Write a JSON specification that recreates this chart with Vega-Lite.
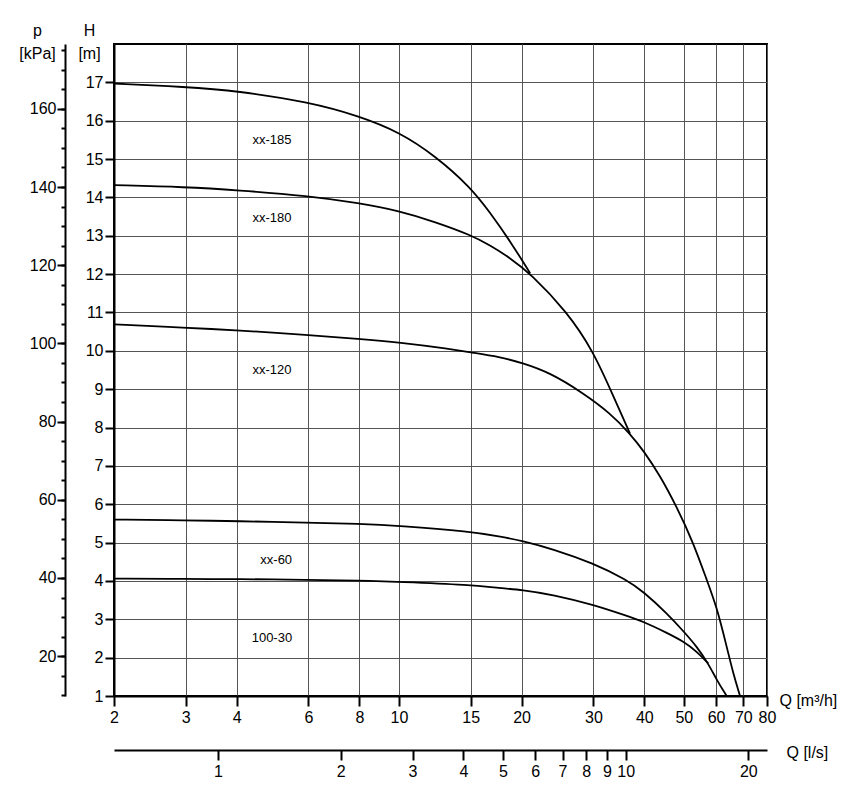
{
  "$schema": "https://vega.github.io/schema/vega-lite/v6.json",
  "width": 653,
  "height": 652,
  "autosize": {"type": "none"},
  "padding": {"left": 114, "top": 44, "right": 94, "bottom": 102},
  "background": "white",
  "config": {
    "font": "Liberation Sans",
    "view": {"stroke": "black", "strokeWidth": 2},
    "axis": {
      "domainColor": "black", "domainWidth": 2,
      "tickColor": "black", "tickWidth": 2,
      "labelColor": "black", "labelFontSize": 16, "labelFont": "Liberation Sans",
      "titleFont": "Liberation Sans", "titleFontSize": 16, "titleFontWeight": "normal", "titleColor": "black",
      "gridColor": "#555", "gridWidth": 1, "gridOpacity": 1,
      "labelOverlap": false, "labelFlush": false
    }
  },
  "datasets": {
    "curves": [
      {"series": "xx-185", "Q": 2, "H": 16.97},
      {"series": "xx-185", "Q": 3, "H": 16.88},
      {"series": "xx-185", "Q": 4, "H": 16.78},
      {"series": "xx-185", "Q": 6, "H": 16.49},
      {"series": "xx-185", "Q": 8, "H": 16.12},
      {"series": "xx-185", "Q": 10, "H": 15.71},
      {"series": "xx-185", "Q": 12.3, "H": 15.08},
      {"series": "xx-185", "Q": 15, "H": 14.26},
      {"series": "xx-185", "Q": 16.7, "H": 13.62},
      {"series": "xx-185", "Q": 18.75, "H": 12.86},
      {"series": "xx-185", "Q": 21, "H": 12.02},
      {"series": "xx-180", "Q": 2, "H": 14.32},
      {"series": "xx-180", "Q": 3, "H": 14.27},
      {"series": "xx-180", "Q": 4, "H": 14.19},
      {"series": "xx-180", "Q": 6, "H": 14.04},
      {"series": "xx-180", "Q": 8, "H": 13.85},
      {"series": "xx-180", "Q": 10, "H": 13.65},
      {"series": "xx-180", "Q": 12.3, "H": 13.36},
      {"series": "xx-180", "Q": 15, "H": 13.02},
      {"series": "xx-180", "Q": 16.7, "H": 12.76},
      {"series": "xx-180", "Q": 18.75, "H": 12.42},
      {"series": "xx-180", "Q": 21, "H": 12.02},
      {"series": "xx-180", "Q": 25.8, "H": 11.03},
      {"series": "xx-180", "Q": 30, "H": 9.99},
      {"series": "xx-180", "Q": 33.6, "H": 8.81},
      {"series": "xx-180", "Q": 36.9, "H": 7.84},
      {"series": "xx-120", "Q": 2, "H": 10.69},
      {"series": "xx-120", "Q": 3, "H": 10.6},
      {"series": "xx-120", "Q": 4, "H": 10.54},
      {"series": "xx-120", "Q": 6, "H": 10.41},
      {"series": "xx-120", "Q": 8, "H": 10.31},
      {"series": "xx-120", "Q": 10, "H": 10.22},
      {"series": "xx-120", "Q": 13.35, "H": 10.05},
      {"series": "xx-120", "Q": 15, "H": 9.96},
      {"series": "xx-120", "Q": 17.7, "H": 9.84},
      {"series": "xx-120", "Q": 20, "H": 9.69},
      {"series": "xx-120", "Q": 23.5, "H": 9.43},
      {"series": "xx-120", "Q": 28.3, "H": 8.9},
      {"series": "xx-120", "Q": 32.95, "H": 8.38},
      {"series": "xx-120", "Q": 36.9, "H": 7.84},
      {"series": "xx-120", "Q": 39.8, "H": 7.4},
      {"series": "xx-120", "Q": 43.7, "H": 6.75},
      {"series": "xx-120", "Q": 48, "H": 5.94},
      {"series": "xx-120", "Q": 52.8, "H": 4.99},
      {"series": "xx-120", "Q": 56.9, "H": 4.03},
      {"series": "xx-120", "Q": 60.2, "H": 3.33},
      {"series": "xx-120", "Q": 63.7, "H": 2.29},
      {"series": "xx-120", "Q": 66.1, "H": 1.59},
      {"series": "xx-120", "Q": 68.7, "H": 1.0},
      {"series": "xx-60", "Q": 2, "H": 5.6},
      {"series": "xx-60", "Q": 3, "H": 5.58},
      {"series": "xx-60", "Q": 4, "H": 5.56},
      {"series": "xx-60", "Q": 6, "H": 5.52},
      {"series": "xx-60", "Q": 8, "H": 5.49},
      {"series": "xx-60", "Q": 10, "H": 5.44},
      {"series": "xx-60", "Q": 15, "H": 5.29},
      {"series": "xx-60", "Q": 17.7, "H": 5.16},
      {"series": "xx-60", "Q": 20, "H": 5.05},
      {"series": "xx-60", "Q": 23.9, "H": 4.83},
      {"series": "xx-60", "Q": 30, "H": 4.46},
      {"series": "xx-60", "Q": 36.2, "H": 4.03},
      {"series": "xx-60", "Q": 39.8, "H": 3.72},
      {"series": "xx-60", "Q": 45.4, "H": 3.16},
      {"series": "xx-60", "Q": 50, "H": 2.68},
      {"series": "xx-60", "Q": 53.8, "H": 2.29},
      {"series": "xx-60", "Q": 57.4, "H": 1.85},
      {"series": "xx-60", "Q": 60.2, "H": 1.42},
      {"series": "xx-60", "Q": 63.7, "H": 1.0},
      {"series": "100-30", "Q": 2, "H": 4.06},
      {"series": "100-30", "Q": 3, "H": 4.05},
      {"series": "100-30", "Q": 4, "H": 4.05},
      {"series": "100-30", "Q": 6, "H": 4.03},
      {"series": "100-30", "Q": 8, "H": 4.01},
      {"series": "100-30", "Q": 10, "H": 3.98},
      {"series": "100-30", "Q": 15, "H": 3.9},
      {"series": "100-30", "Q": 17.7, "H": 3.81},
      {"series": "100-30", "Q": 20, "H": 3.77},
      {"series": "100-30", "Q": 23.9, "H": 3.64},
      {"series": "100-30", "Q": 30, "H": 3.38},
      {"series": "100-30", "Q": 36.2, "H": 3.09},
      {"series": "100-30", "Q": 39.8, "H": 2.94},
      {"series": "100-30", "Q": 45.4, "H": 2.65},
      {"series": "100-30", "Q": 50, "H": 2.42},
      {"series": "100-30", "Q": 53.8, "H": 2.16},
      {"series": "100-30", "Q": 57.4, "H": 1.85}
    ],
    "labels": [
      {"label": "xx-185", "Q": 4.88, "H": 15.5},
      {"label": "xx-180", "Q": 4.88, "H": 13.47},
      {"label": "xx-120", "Q": 4.88, "H": 9.49},
      {"label": "xx-60", "Q": 5.0, "H": 4.55},
      {"label": "100-30", "Q": 4.88, "H": 2.51}
    ],
    "pdata": [{"p": 10}, {"p": 170}],
    "lsdata": [{"Qls": 1}, {"Qls": 20}]
  },
  "layer": [
    {
      "layer": [
        {
          "data": {"name": "curves"},
          "mark": {"type": "line", "color": "black", "strokeWidth": 1.8, "interpolate": "basis"},
          "encoding": {
            "x": {
              "field": "Q", "type": "quantitative",
              "scale": {"type": "log", "domain": [2, 80], "nice": false, "zero": false},
              "axis": {
                "values": [2, 3, 4, 6, 8, 10, 15, 20, 30, 40, 50, 60, 70, 80],
                "format": "d", "grid": true, "tickSize": 10, "labelPadding": 3,
                "title": "Q [m³/h]", "titleX": 665, "titleY": 9,
                "titleAlign": "left", "titleBaseline": "alphabetic"
              }
            },
            "y": {
              "field": "H", "type": "quantitative",
              "scale": {"domain": [1, 18], "nice": false, "zero": false},
              "axis": {
                "values": [1, 2, 3, 4, 5, 6, 7, 8, 9, 10, 11, 12, 13, 14, 15, 16, 17],
                "grid": true, "tickSize": 9, "labelPadding": 2,
                "title": ["H", "[m]"], "titleAngle": 0, "titleX": -25, "titleY": -9,
                "titleAlign": "center", "titleBaseline": "alphabetic", "titleLineHeight": 23
              }
            },
            "detail": {"field": "series", "type": "nominal"}
          }
        },
        {
          "data": {"name": "labels"},
          "mark": {"type": "text", "fontSize": 13, "color": "black", "align": "center", "baseline": "middle"},
          "encoding": {
            "x": {"field": "Q", "type": "quantitative"},
            "y": {"field": "H", "type": "quantitative"},
            "text": {"field": "label", "type": "nominal"}
          }
        }
      ]
    },
    {
      "data": {"name": "pdata"},
      "mark": {"type": "point", "opacity": 0},
      "encoding": {
        "y": {
          "field": "p", "type": "quantitative",
          "scale": {"domain": [9.81, 176.58], "nice": false, "zero": false},
          "axis": {
            "orient": "left", "offset": 49,
            "values": [10, 15, 20, 25, 30, 35, 40, 45, 50, 55, 60, 65, 70, 75, 80, 85, 90, 95, 100, 105, 110, 115, 120, 125, 130, 135, 140, 145, 150, 155, 160, 165, 170, 175],
            "tickSize": 4, "labels": false, "grid": false, "title": null
          }
        }
      }
    },
    {
      "data": {"name": "pdata"},
      "mark": {"type": "point", "opacity": 0},
      "encoding": {
        "y": {
          "field": "p", "type": "quantitative",
          "scale": {"domain": [9.81, 176.58], "nice": false, "zero": false},
          "axis": {
            "orient": "left", "offset": 49,
            "values": [20, 40, 60, 80, 100, 120, 140, 160],
            "tickSize": 8, "labelPadding": 1, "domain": false, "grid": false,
            "title": ["p", "[kPa]"], "titleAngle": 0, "titleX": -28, "titleY": -9,
            "titleAlign": "center", "titleBaseline": "alphabetic", "titleLineHeight": 23
          }
        }
      }
    },
    {
      "data": {"name": "lsdata"},
      "mark": {"type": "point", "opacity": 0},
      "encoding": {
        "x": {
          "field": "Qls", "type": "quantitative",
          "scale": {"type": "log", "domain": [0.5556, 22.222], "nice": false, "zero": false},
          "axis": {
            "orient": "bottom", "offset": 54,
            "values": [1, 2, 3, 4, 5, 6, 7, 8, 9, 10, 20],
            "format": "d", "tickSize": 10, "labelPadding": 3, "grid": false,
            "title": "Q [l/s]", "titleX": 672, "titleY": 7,
            "titleAlign": "left", "titleBaseline": "alphabetic"
          }
        }
      }
    }
  ],
  "resolve": {"scale": {"x": "independent", "y": "independent"}}
}
